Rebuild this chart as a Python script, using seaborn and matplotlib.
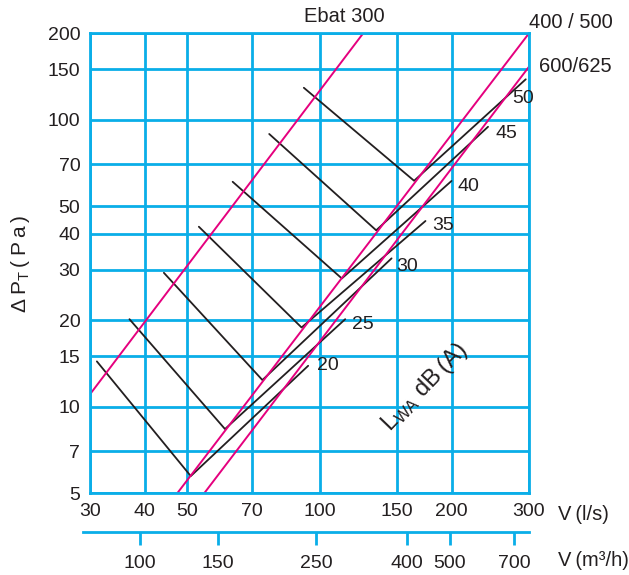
import pandas as pd
import matplotlib
matplotlib.use("Agg")
import matplotlib.pyplot as plt
import seaborn as sns

# axis ticks
flow_ticks = [30, 40, 50, 70, 100, 150, 200, 300]
pressure_ticks = [5, 7, 10, 15, 20, 30, 40, 50, 70, 100, 150, 200]
m3h_ticks = [100, 150, 250, 400, 500, 700]

# duct curves: flow (l/s) / pressure (Pa) at both ends
curve_names = ["Ebat 300", "400 / 500", "600/625"]
curve_flow = [[30, 125.7], [47.4, 300], [54.6, 300]]
curve_pa = [[11.06, 200], [5, 200], [5, 153]]

# sound level lines, each one a V: start -> corner -> end
db_levels = [20, 25, 30, 35, 40, 45, 50]
db_start_flow = [31.1, 36.9, 44.2, 53.1, 63.4, 76.8, 92.1]
db_start_pa = [14.4, 20.2, 29.3, 42.4, 60.8, 89.2, 129.2]
db_corner_flow = [50.9, 60.9, 74.1, 91.0, 112.4, 134.6, 164.2]
db_corner_pa = [5.74, 8.37, 12.4, 18.9, 28.0, 41.2, 61.3]
db_end_flow = [94.2, 114.4, 145.9, 174.3, 199.8, 242.0, 294.9]
db_end_pa = [13.9, 20.2, 32.9, 44.4, 61.2, 94.5, 138.3]

CYAN = "#0aaee8"
MAGENTA = "#e5007e"
INK = "#231f20"
TS = "\u2009"  # thin space, the print has wide letter spacing

sns.set_theme(style="white")
plt.rcParams["font.family"] = ["Liberation Sans", "DejaVu Sans"]
plt.rcParams["mathtext.default"] = "regular"

rows = []
for name, fl, pa in zip(curve_names, curve_flow, curve_pa):
    for f, p in zip(fl, pa):
        rows.append({"curve": name, "flow": f, "pa": p})
curves = pd.DataFrame(rows)

rows = []
for i, lvl in enumerate(db_levels):
    rows.append({"level": lvl, "flow": db_start_flow[i], "pa": db_start_pa[i]})
    rows.append({"level": lvl, "flow": db_corner_flow[i], "pa": db_corner_pa[i]})
    rows.append({"level": lvl, "flow": db_end_flow[i], "pa": db_end_pa[i]})
sound = pd.DataFrame(rows)

W, H = 629, 575
fig = plt.figure(figsize=(W / 100, H / 100), dpi=100)
ax = fig.add_axes([90 / W, (H - 493.3) / H, 439 / W, 460 / H])
ax.set_xscale("log")
ax.set_yscale("log")

sns.lineplot(data=sound, x="flow", y="pa", units="level", estimator=None,
             sort=False, color=INK, lw=1.3, ax=ax)
sns.lineplot(data=curves, x="flow", y="pa", units="curve", estimator=None,
             sort=False, color=MAGENTA, lw=1.4, ax=ax)

ax.set_xlim(30, 300)
ax.set_ylim(5, 200)
ax.set_xticks(flow_ticks, labels=[str(t) for t in flow_ticks])
ax.set_yticks(pressure_ticks, labels=[str(t) for t in pressure_ticks])
ax.minorticks_off()
ax.tick_params(length=0, labelsize=14, colors=INK)
ax.tick_params(axis="x", pad=7)
ax.tick_params(axis="y", pad=7)
ax.grid(True, color=CYAN, lw=2)
ax.set_axisbelow(True)
for s in ax.spines.values():
    s.set_color(CYAN)
    s.set_linewidth(2)
ax.set_xlabel("")
ax.set_ylabel("")

# labels on the lines
label_offsets = [(9, 0), (7, -5), (5, -8), (7, -5), (6, -6), (7, -7), (-13, -19)]
for i, lvl in enumerate(db_levels):
    ax.annotate(str(lvl), (db_end_flow[i], db_end_pa[i]), xytext=label_offsets[i],
                textcoords="offset pixels", ha="left", va="center",
                fontsize=14, color=INK)

ax.annotate(curve_names[0], (curve_flow[0][1], curve_pa[0][1]), xytext=(-19, 17),
            textcoords="offset pixels", ha="center", va="center",
            fontsize=14.5, color=INK, annotation_clip=False)
ax.annotate(curve_names[1], (curve_flow[1][1], curve_pa[1][1]), xytext=(0, 11),
            textcoords="offset pixels", ha="left", va="center",
            fontsize=14.5, color=INK, annotation_clip=False)
ax.annotate(curve_names[2], (curve_flow[2][1], curve_pa[2][1]), xytext=(10, 0),
            textcoords="offset pixels", ha="left", va="center",
            fontsize=14.5, color=INK, annotation_clip=False)

ax.text(174, 11.7, "L$_{WA}$ dB" + TS + "(A)", rotation=46, ha="center", va="center",
        fontsize=17, color=INK)

# second flow scale in m3/h
ax2 = fig.add_axes([83 / W, (H - 532) / H, 446 / W, 0.001])
ax2.set_xscale("log")
ax2.set_xlim(74.3, 756)
ax2.set_xticks(m3h_ticks, labels=[str(t) for t in m3h_ticks])
ax2.minorticks_off()
ax2.set_yticks([])
ax2.patch.set_visible(False)
for side in ["top", "left", "right"]:
    ax2.spines[side].set_visible(False)
ax2.spines["bottom"].set_color(CYAN)
ax2.spines["bottom"].set_linewidth(2)
ax2.tick_params(axis="x", direction="out", length=9.5, width=2, color=CYAN,
                labelsize=14, labelcolor=INK, pad=7, bottom=True)

ylab = TS.join(["\u0394", "P$_T$", "(", "P", "a", ")"])
fig.text(21 / W, 1 - 264 / H, ylab, rotation=90, ha="center", va="center",
         fontsize=15, color=INK)
fig.text(558 / W, 1 - 515 / H, "V" + TS + "(l/s)", ha="left", va="center",
         fontsize=14.5, color=INK)
fig.text(558 / W, 1 - 560 / H, "V" + TS + "(m\u00b3/h)", ha="left", va="center",
         fontsize=14.5, color=INK)

fig.savefig("out.png", dpi=100)
